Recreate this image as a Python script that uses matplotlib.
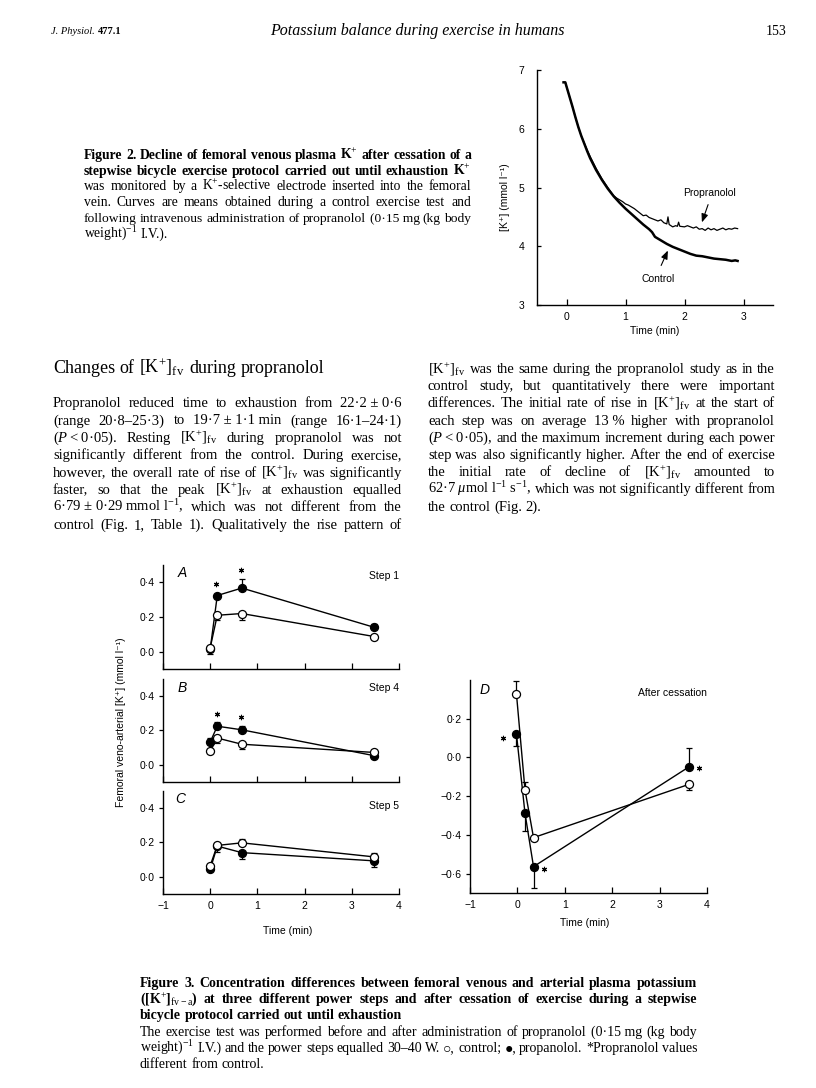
import matplotlib
matplotlib.use('Agg')
import matplotlib.pyplot as plt
from matplotlib.ticker import FixedLocator, FixedFormatter

plt.rcParams.update({
    'mathtext.fontset': 'custom',
    'mathtext.rm': 'Liberation Serif',
    'mathtext.it': 'Liberation Serif:italic',
    'mathtext.bf': 'Liberation Serif:bold',
})

# ---------------- Figure 2 data ----------------
fig2_t_control = [-0.05, -0.02, 0.0, 0.05, 0.1, 0.15, 0.2, 0.25, 0.3, 0.35, 0.4, 0.5, 0.6,
                  0.7, 0.8, 0.9, 1.0, 1.1, 1.2, 1.3, 1.4, 1.45, 1.5, 1.6, 1.7, 1.8, 1.9,
                  2.0, 2.1, 2.2, 2.3, 2.4, 2.5, 2.6, 2.7, 2.8, 2.86, 2.9]
fig2_control = [6.79, 6.79, 6.72, 6.55, 6.38, 6.2, 6.03, 5.88, 5.75, 5.62, 5.5, 5.3, 5.13,
                4.98, 4.85, 4.74, 4.64, 4.55, 4.46, 4.37, 4.29, 4.24, 4.16, 4.1, 4.04, 3.99, 3.95,
                3.91, 3.87, 3.84, 3.83, 3.81, 3.79, 3.78, 3.77, 3.75, 3.76, 3.75]
fig2_t_prop = [-0.05, -0.02, 0.0, 0.05, 0.1, 0.15, 0.2, 0.25, 0.3, 0.35, 0.4, 0.5, 0.6, 0.7,
               0.8, 0.85, 0.9, 0.95, 1.0, 1.05, 1.1, 1.15, 1.2, 1.25, 1.3, 1.35, 1.4, 1.45,
               1.5, 1.55, 1.6, 1.65, 1.7, 1.72, 1.74, 1.8, 1.85, 1.88, 1.9, 1.92, 2.0, 2.05,
               2.1, 2.15, 2.2, 2.25, 2.3, 2.35, 2.4, 2.45, 2.5, 2.55, 2.6, 2.65, 2.7, 2.75,
               2.8, 2.85, 2.9]
fig2_prop = [6.79, 6.79, 6.72, 6.55, 6.38, 6.2, 6.03, 5.88, 5.76, 5.64, 5.53, 5.33, 5.15, 5.0,
             4.86, 4.82, 4.79, 4.76, 4.72, 4.70, 4.67, 4.64, 4.60, 4.56, 4.52, 4.53, 4.49, 4.47,
             4.45, 4.43, 4.45, 4.40, 4.38, 4.50, 4.37, 4.33, 4.35, 4.34, 4.41, 4.34, 4.33, 4.35,
             4.33, 4.31, 4.33, 4.29, 4.30, 4.27, 4.31, 4.28, 4.30, 4.27, 4.29, 4.31, 4.28, 4.30,
             4.29, 4.31, 4.30]
fig2_xticks = [0, 1, 2, 3]
fig2_yticks = [3, 4, 5, 6, 7]

# ---------------- Figure 3 data ----------------
fig3_time = [0.0, 0.15, 0.67, 3.48]
A_control = [0.023, 0.21, 0.22, 0.087]
A_control_lo = [0.0, 0.03, 0.04, 0.0]
A_control_hi = [0.0, 0.0, 0.0, 0.0]
A_prop = [0.014, 0.324, 0.367, 0.14]
A_prop_lo = [0.025, 0.0, 0.0, 0.0]
A_prop_hi = [0.0, 0.0, 0.05, 0.02]
A_star_x = [0.13, 0.65]
A_star_y = [0.392, 0.47]

B_control = [0.08, 0.156, 0.12, 0.072]
B_control_lo = [0.0, 0.03, 0.03, 0.0]
B_control_hi = [0.0, 0.0, 0.0, 0.0]
B_prop = [0.133, 0.225, 0.204, 0.053]
B_prop_lo = [0.0, 0.0, 0.0, 0.0]
B_prop_hi = [0.025, 0.025, 0.025, 0.0]
B_star_x = [0.14, 0.66]
B_star_y = [0.295, 0.276]

C_control = [0.065, 0.183, 0.198, 0.116]
C_control_lo = [0.0, 0.0, 0.0, 0.0]
C_control_hi = [0.0, 0.0, 0.02, 0.02]
C_prop = [0.044, 0.179, 0.141, 0.093]
C_prop_lo = [0.0, 0.035, 0.04, 0.035]
C_prop_hi = [0.0, 0.0, 0.0, 0.0]

D_time = [-0.02, 0.16, 0.34, 3.63]
D_control = [0.328, -0.167, -0.414, -0.138]
D_control_lo = [0.0, 0.0, 0.0, 0.03]
D_control_hi = [0.065, 0.04, 0.0, 0.0]
D_prop = [0.121, -0.288, -0.564, -0.047]
D_prop_lo = [0.06, 0.09, 0.11, 0.0]
D_prop_hi = [0.0, 0.0, 0.0, 0.095]
D_star_x = [-0.31, 0.57, 3.83]
D_star_y = [0.103, -0.576, -0.052]

fig3_xticks = [-1, 0, 1, 2, 3, 4]
fig3_xlabels = ['\u22121', '0', '1', '2', '3', '4']
abc_yticks = [0.0, 0.2, 0.4]
abc_ylabels = ['0\u00b70', '0\u00b72', '0\u00b74']
d_yticks = [-0.6, -0.4, -0.2, 0.0, 0.2]
d_ylabels = ['\u22120\u00b76', '\u22120\u00b74', '\u22120\u00b72', '0\u00b70', '0\u00b72']

# ---------------- Text ----------------
header_left = 'J. Physiol.'
header_vol = '477.1'
header_title = 'Potassium balance during exercise in humans'
header_page = '153'

K = '[K$^{+}$]$_{\\mathrm{fv}}$'
fig2_caption_bold = [
    'Figure 2. Decline of femoral venous plasma K$^{+}$ after cessation of a',
    'stepwise bicycle exercise protocol carried out until exhaustion K$^{+}$',
]
fig2_caption = [
    'was monitored by a K$^{+}$-selective electrode inserted into the femoral',
    'vein. Curves are means obtained during a control exercise test and',
    'following intravenous administration of propranolol (0\u00b715\u00a0mg (kg body',
    'weight)$^{-1}$ I.V.).',
]
heading = 'Changes of ' + K + ' during propranolol'
left_col = [
    'Propranolol reduced time to exhaustion from 22\u00b72\u00a0\u00b1\u00a00\u00b76',
    '(range 20\u00b78\u201325\u00b73) to 19\u00b77\u00a0\u00b1\u00a01\u00b71\u00a0min (range 16\u00b71\u201324\u00b71)',
    '($P$\u2009<\u20090\u00b705). Resting ' + K + ' during propranolol was not',
    'significantly different from the control. During exercise,',
    'however, the overall rate of rise of ' + K + ' was significantly',
    'faster, so that the peak ' + K + ' at exhaustion equalled',
    '6\u00b779\u00a0\u00b1\u00a00\u00b729\u00a0mmol\u00a0l$^{-1}$, which was not different from the',
    'control (Fig. 1, Table 1). Qualitatively the rise pattern of',
]
right_col = [
    K + ' was the same during the propranolol study as in the',
    'control study, but quantitatively there were important',
    'differences. The initial rate of rise in ' + K + ' at the start of',
    'each step was on average 13\u00a0% higher with propranolol',
    '($P$\u2009<\u20090\u00b705), and the maximum increment during each power',
    'step was also significantly higher. After the end of exercise',
    'the initial rate of decline of ' + K + ' amounted to',
    '62\u00b77\u00a0$\\mu$mol\u00a0l$^{-1}$\u00a0s$^{-1}$, which was not significantly different from',
    'the control (Fig. 2).',
]
fig3_caption_bold = [
    'Figure 3. Concentration differences between femoral venous and arterial plasma potassium',
    '([K$^{+}$]$_{\\mathrm{fv-a}}$) at three different power steps and after cessation of exercise during a stepwise',
    'bicycle protocol carried out until exhaustion',
]
fig3_caption = [
    'The exercise test was performed before and after administration of propranolol (0\u00b715\u00a0mg (kg body',
    'weight)$^{-1}$ I.V.) and the power steps equalled 30\u201340 W. \u25cb, control; \u25cf, propanolol. *Propranolol values',
    'different from control.',
]

# ---------------- Layout helpers ----------------
W, H = 816, 1088
SERIF = ['Liberation Serif', 'DejaVu Serif', 'DejaVu Sans']
SANS = ['Liberation Sans', 'DejaVu Sans']

fig = plt.figure(figsize=(W / 100, H / 100), dpi=100)
renderer = fig.canvas.get_renderer()


def fx(x):
    return x / W


def fy(y):
    return 1 - y / H


def axes_px(x0, y0, x1, y1):
    return fig.add_axes([fx(x0), fy(y1), (x1 - x0) / W, (y1 - y0) / H])


def put_line(text, x0, x1, y, size, weight='normal', style='normal', justify=True, min_gap=3.0):
    words = text.split(' ')
    n = len(words)
    sz = size
    for _ in range(5):
        ts = [fig.text(0, 0, w, fontsize=sz, family=SERIF, weight=weight, style=style,
                       ha='left', va='baseline') for w in words]
        ws = [t.get_window_extent(renderer).width for t in ts]
        total = sum(ws)
        if justify and n > 1 and total + (n - 1) * min_gap > (x1 - x0):
            for t in ts:
                t.remove()
            sz = sz * (x1 - x0 - (n - 1) * min_gap) / total * 0.995
            continue
        break
    gap = sz * 100 / 72 * 0.25
    if justify and n > 1:
        gap = (x1 - x0 - total) / (n - 1)
    x = x0
    for t, w in zip(ts, ws):
        t.set_position((fx(x), fy(y + 4)))
        x += w + gap


def put_block(lines, x0, x1, y0, dy, size, weight='normal', last_left=True):
    for i, line in enumerate(lines):
        just = not (last_left and i == len(lines) - 1)
        put_line(line, x0, x1, y0 + i * dy, size, weight=weight, justify=just)


def style_axes(ax, xin=True, yout=True, size=7.5):
    for s in ('top', 'right'):
        ax.spines[s].set_visible(False)
    for s in ('left', 'bottom'):
        ax.spines[s].set_linewidth(1.0)
    ax.tick_params(axis='x', direction='in' if xin else 'out', length=4, width=0.9,
                   labelsize=size, pad=5)
    ax.tick_params(axis='y', direction='out' if yout else 'in', length=3, width=0.9,
                   labelsize=size, pad=3)
    for lab in ax.get_xticklabels() + ax.get_yticklabels():
        lab.set_family(SANS)
    ax.patch.set_alpha(0)


# ---------------- Header ----------------
fig.text(fx(51), fy(34), header_left, fontsize=7.5, family=SERIF, style='italic', va='baseline')
fig.text(fx(98), fy(34), header_vol, fontsize=7.5, family=SERIF, weight='bold', va='baseline')
fig.text(fx(417), fy(35), header_title, fontsize=11.5, family=SERIF, style='italic',
         ha='center', va='baseline')
fig.text(fx(786), fy(35), header_page, fontsize=10, family=SERIF, ha='right', va='baseline')

# ---------------- Figure 2 ----------------
ax2 = axes_px(537, 70, 773, 305)
ax2.plot(fig2_t_prop, fig2_prop, color='k', lw=0.9)
ax2.plot(fig2_t_control, fig2_control, color='k', lw=1.8)
ax2.set_xlim(-0.5, 3.5)
ax2.set_ylim(3, 7)
ax2.xaxis.set_major_locator(FixedLocator(fig2_xticks))
ax2.yaxis.set_major_locator(FixedLocator(fig2_yticks))
style_axes(ax2, xin=True, yout=False, size=7.5)
ax2.tick_params(axis='y', pad=9)
fig.text(fx(505), fy(197), '[K\u207a] (mmol l\u207b\u00b9)', rotation=90, fontsize=7.5,
         family=SANS, ha='center', va='center')
fig.text(fx(655), fy(331), 'Time (min)', fontsize=7.5, family=SANS, ha='center', va='center')
fig.text(fx(710), fy(193), 'Propranolol', fontsize=7.5, family=SANS, ha='center', va='center')
fig.text(fx(658), fy(279), 'Control', fontsize=7.5, family=SANS, ha='center', va='center')
arrow = dict(arrowstyle='-|>,head_length=0.5,head_width=0.2', color='k', lw=0.8)
ax2.annotate('', xy=(701, H - 225), xytext=(709, H - 202), xycoords='figure pixels',
             textcoords='figure pixels', arrowprops=arrow)
ax2.annotate('', xy=(669, H - 248), xytext=(660, H - 268), xycoords='figure pixels',
             textcoords='figure pixels', arrowprops=arrow)

put_block(fig2_caption_bold, 84, 471, 155, 15.7, 9.8, weight='bold', last_left=False)
put_block(fig2_caption, 84, 471, 155 + 2 * 15.7, 15.7, 9.8)

# ---------------- Body text ----------------
put_line(heading, 53, 400, 369, 13, justify=False)
put_block(left_col, 53, 402, 403, 17.4, 10.5, last_left=False)
put_block(right_col, 428, 775, 369, 17.2, 10.5)

# ---------------- Figure 3 ----------------


def draw_panel(ax, x, ctrl, clo, chi, prop, plo, phi):
    kw = dict(fmt='none', ecolor='k', elinewidth=0.9, capsize=2.3, capthick=0.9, zorder=2)
    ax.errorbar(x, prop, yerr=[plo, phi], **kw)
    ax.errorbar(x, ctrl, yerr=[clo, chi], **kw)
    ax.plot(x, prop, '-', color='k', lw=1.0, zorder=2)
    ax.plot(x, ctrl, '-', color='k', lw=1.0, zorder=2)
    ax.plot(x, prop, 'o', ms=5.8, mfc='k', mec='k', mew=0.9, zorder=3)
    ax.plot(x, ctrl, 'o', ms=5.8, mfc='white', mec='k', mew=0.9, zorder=4)


def stars(ax, xs, ys):
    ax.plot(xs, ys, linestyle='none', marker=(6, 2, 0), ms=3.8, mew=0.8, color='k',
            clip_on=False)


panels = []
for (y0, y1) in [(565, 669), (679, 782), (791, 894)]:
    panels.append(axes_px(163, y0, 399, y1))
axA, axB, axC = panels
draw_panel(axA, fig3_time, A_control, A_control_lo, A_control_hi, A_prop, A_prop_lo, A_prop_hi)
stars(axA, A_star_x, A_star_y)
draw_panel(axB, fig3_time, B_control, B_control_lo, B_control_hi, B_prop, B_prop_lo, B_prop_hi)
stars(axB, B_star_x, B_star_y)
draw_panel(axC, fig3_time, C_control, C_control_lo, C_control_hi, C_prop, C_prop_lo, C_prop_hi)

for i, ax in enumerate(panels):
    ax.set_xlim(-1, 4)
    ax.set_ylim(-0.1, 0.5)
    ax.xaxis.set_major_locator(FixedLocator(fig3_xticks))
    ax.xaxis.set_major_formatter(FixedFormatter(fig3_xlabels))
    ax.yaxis.set_major_locator(FixedLocator(abc_yticks))
    ax.yaxis.set_major_formatter(FixedFormatter(abc_ylabels))
    if i < 2:
        ax.tick_params(axis='x', labelbottom=False)
    style_axes(ax)

axD = axes_px(470, 680, 707, 893)
draw_panel(axD, D_time, D_control, D_control_lo, D_control_hi, D_prop, D_prop_lo, D_prop_hi)
stars(axD, D_star_x, D_star_y)
axD.set_xlim(-1, 4)
axD.set_ylim(-0.7, 0.4)
axD.xaxis.set_major_locator(FixedLocator(fig3_xticks))
axD.xaxis.set_major_formatter(FixedFormatter(fig3_xlabels))
axD.yaxis.set_major_locator(FixedLocator(d_yticks))
axD.yaxis.set_major_formatter(FixedFormatter(d_ylabels))
style_axes(axD)

for lab, (x, y) in zip(['A', 'B', 'C', 'D'], [(182, 573), (182, 688), (180, 799), (485, 690)]):
    fig.text(fx(x), fy(y), lab, fontsize=10, family=SANS, style='italic', ha='center', va='center')
for lab, (x, y) in zip(['Step 1', 'Step 4', 'Step 5', 'After cessation'],
                       [(399, 576), (399, 688), (399, 806), (707, 693)]):
    fig.text(fx(x), fy(y), lab, fontsize=7.5, family=SANS, ha='right', va='center')

fig.text(fx(121), fy(722), 'Femoral veno-arterial [K\u207a] (mmol l\u207b\u00b9)', rotation=90,
         fontsize=7.5, family=SANS, ha='center', va='center')
fig.text(fx(288), fy(931), 'Time (min)', fontsize=7.5, family=SANS, ha='center', va='center')
fig.text(fx(585), fy(923), 'Time (min)', fontsize=7.5, family=SANS, ha='center', va='center')

put_block(fig3_caption_bold, 140, 697, 983, 16.2, 10.0, weight='bold')
put_block(fig3_caption, 140, 697, 983 + 3 * 16.2, 16.2, 10.0)

fig.savefig('out.png', dpi=100)
